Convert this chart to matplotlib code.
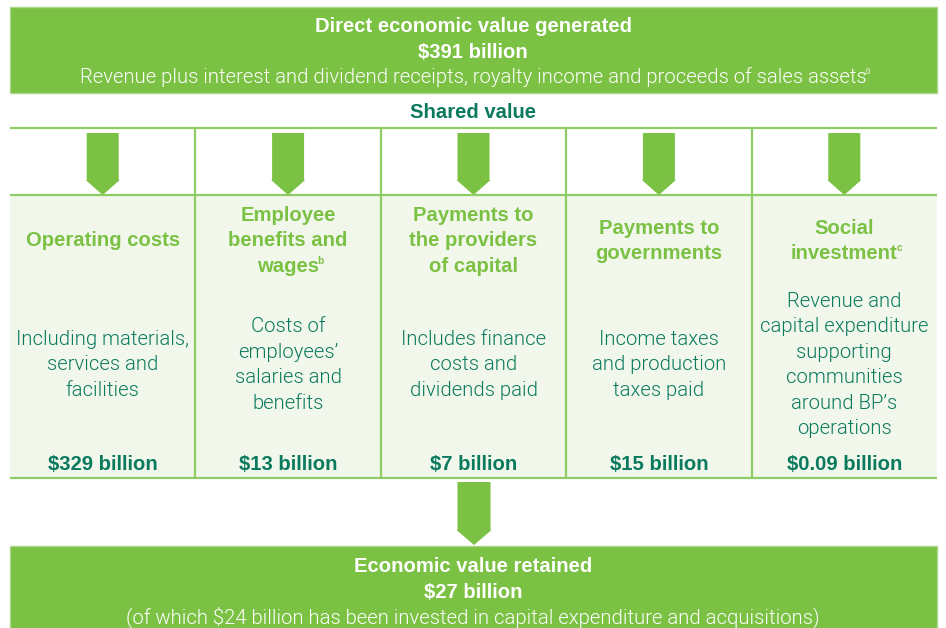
import matplotlib
matplotlib.use("Agg")
import matplotlib.pyplot as plt
from matplotlib.patches import Rectangle, Polygon

# ---------------- data ----------------
generated_bn = 391
generated_desc = "Revenue plus interest and dividend receipts, royalty income and proceeds of sales assets"
generated_note = "a"
categories = ["Operating costs",
              "Employee\nbenefits and\nwages",
              "Payments to\nthe providers\nof capital",
              "Payments to\ngovernments",
              "Social\ninvestment"]
category_notes = ["", "b", "", "", "c"]
descriptions = ["Including materials,\nservices and\nfacilities",
                "Costs of\nemployees’\nsalaries and\nbenefits",
                "Includes finance\ncosts and\ndividends paid",
                "Income taxes\nand production\ntaxes paid",
                "Revenue and\ncapital expenditure\nsupporting\ncommunities\naround BP’s\noperations"]
values_bn = [329, 13, 7, 15, 0.09]
retained_bn = 27
invested_bn = 24

# ---------------- style ----------------
GREEN = "#7BC143"
LINE = "#8FCC66"
FILL = "#F1F7EB"
DARK = "#0A7A5E"
BOLD_FONT = ["Liberation Sans", "DejaVu Sans"]
LIGHT_FONT = ["Roboto", "DejaVu Sans"]
BOLD_SIZE = 14.6
LIGHT_SIZE = 14.6

W, H = 946, 628
fig = plt.figure(figsize=(W / 100, H / 100), dpi=100)
ax = fig.add_axes([0, 0, 1, 1])
ax.set_xlim(0, W)
ax.set_ylim(H, 0)
ax.axis("off")

L, R = 10, 937
LS = 25.5  # line spacing in px


def lines_text(cx, cy, text, color, bold, note=""):
    size = BOLD_SIZE if bold else LIGHT_SIZE
    lines = text.split("\n")
    n = len(lines)
    objs = []
    for i, ln in enumerate(lines):
        y = cy + (i - (n - 1) / 2) * LS
        t = ax.text(cx, y, ln, ha="center", va="center", color=color, fontsize=size,
                    family=BOLD_FONT if bold else LIGHT_FONT,
                    fontweight="bold" if bold else 300)
        objs.append((t, y))
    if note:
        fig.canvas.draw()
        r = fig.canvas.get_renderer()
        t, y = objs[-1]
        bb = t.get_window_extent(r)
        xr = ax.transData.inverted().transform((bb.x1, bb.y1))[0]
        ax.text(xr - 1.5, y - 6, note, ha="left", va="center", color=color,
                fontsize=size * 0.5, family=BOLD_FONT if bold else LIGHT_FONT,
                fontweight="bold" if bold else 300)


# top box
ax.add_patch(Rectangle((L, 7), R - L, 86, facecolor=GREEN, edgecolor="#A9D88A", lw=1))
lines_text(W / 2, 27, "Direct economic value generated", "white", True)
lines_text(W / 2, 52, f"${generated_bn} billion", "white", True)
lines_text(W / 2, 77, generated_desc, "white", False, generated_note)

lines_text(W / 2, 113, "Shared value", DARK, True)

# columns
n = len(categories)
cw = (R - L) / n
ax.add_patch(Rectangle((L, 195), R - L, 478 - 195, facecolor=FILL, edgecolor="none"))
for y in (128, 195, 478):
    ax.plot([L, R], [y, y], color=LINE, lw=1.6, solid_capstyle="butt")
for i in range(1, n):
    x = L + i * cw
    ax.plot([x, x], [128, 478], color=LINE, lw=1.6, solid_capstyle="butt")


def arrow(cx, y0, y1, shaft_w, head_w, head_h):
    pts = [(cx - shaft_w / 2, y0), (cx + shaft_w / 2, y0), (cx + shaft_w / 2, y1 - head_h),
           (cx + head_w / 2, y1 - head_h), (cx, y1), (cx - head_w / 2, y1 - head_h),
           (cx - shaft_w / 2, y1 - head_h)]
    ax.add_patch(Polygon(pts, closed=True, facecolor=GREEN, edgecolor="none"))


for i in range(n):
    cx = L + (i + 0.5) * cw
    arrow(cx, 133, 195, 32, 34, 15)
    lines_text(cx, 241, categories[i], GREEN, True, category_notes[i])
    lines_text(cx, 365, descriptions[i], DARK, False)
    lines_text(cx, 464, f"${values_bn[i]:g} billion", DARK, True)

# bottom arrow and box
arrow(W / 2 + 1, 482, 545, 33, 35, 15)
ax.add_patch(Rectangle((L, 546), R - L, 90, facecolor=GREEN, edgecolor="#A9D88A", lw=1))
lines_text(W / 2, 567, "Economic value retained", "white", True)
lines_text(W / 2, 592, f"${retained_bn} billion", "white", True)
lines_text(W / 2, 617, f"(of which ${invested_bn} billion has been invested in capital expenditure and acquisitions)",
           "white", False)

fig.savefig("out.png", dpi=100, facecolor="white")
